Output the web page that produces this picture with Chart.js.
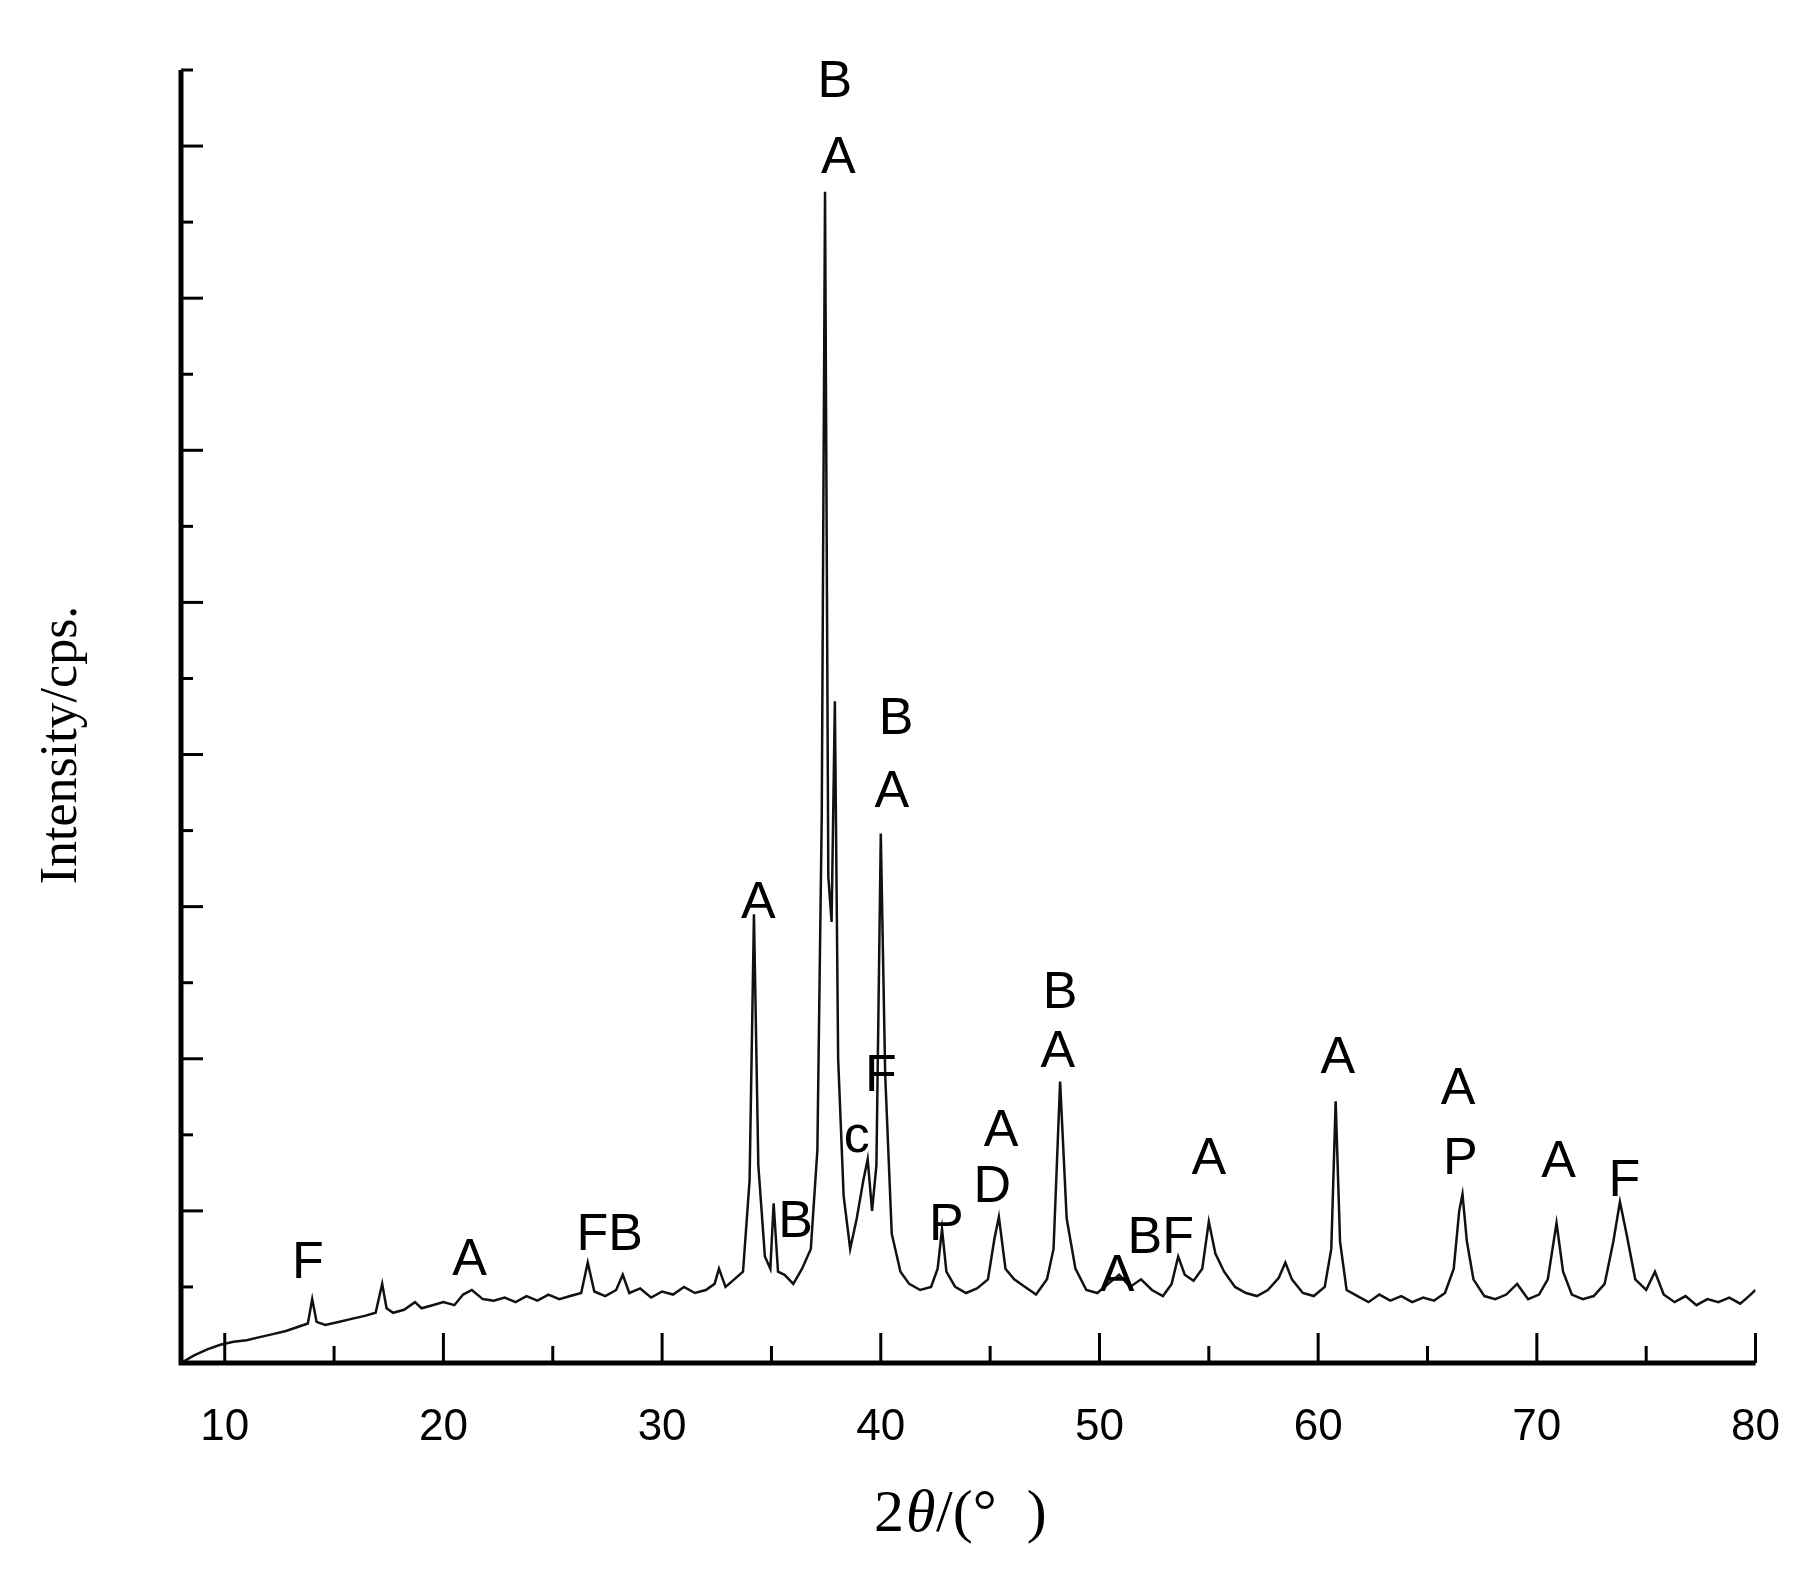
<!DOCTYPE html>
<html>
<head>
<meta charset="utf-8">
<script src="https://cdn.jsdelivr.net/npm/chart.js@4.4.0/dist/chart.umd.min.js"></script>
<style>
  html, body { margin: 0; padding: 0; background: #fff; }
  #wrap { width: 1818px; height: 1577px; }
</style>
</head>
<body>
<div id="wrap"><canvas id="xrd"></canvas></div>
<script>
// 2theta (deg) and intensity (axis units, 0..8.5)
const twoTheta = [
  8.0, 8.6, 9.2, 9.8, 10.4, 11.0, 11.6, 12.2, 12.8, 13.4, 13.8, 14.0, 14.2, 14.6, 15.2, 15.8, 16.4, 16.9, 17.2, 17.4, 17.7, 18.2, 18.7, 19.0, 19.5, 20.0, 20.5, 20.9, 21.3, 21.8, 22.3, 22.8, 23.3, 23.8, 24.3, 24.8, 25.3, 25.8, 26.3, 26.6, 26.9, 27.4, 27.9, 28.2, 28.5, 29.0, 29.5, 30.0, 30.5, 31.0, 31.5, 32.0, 32.4, 32.6, 32.9, 33.3, 33.7, 34.0, 34.2, 34.4, 34.7, 34.95, 35.1, 35.3, 35.6, 36.0, 36.4, 36.8, 37.1, 37.3, 37.45, 37.6, 37.75, 37.9, 38.05, 38.3, 38.6, 38.9, 39.2, 39.4, 39.6, 39.8, 40.0, 40.2, 40.5, 40.9, 41.3, 41.8, 42.3, 42.6, 42.8, 43.0, 43.4, 43.9, 44.4, 44.9, 45.2, 45.4, 45.7, 46.1, 46.6, 47.1, 47.6, 47.9, 48.2, 48.5, 48.9, 49.4, 49.9, 50.4, 50.9, 51.4, 51.9, 52.4, 52.9, 53.3, 53.6, 53.9, 54.3, 54.7, 55.0, 55.3, 55.7, 56.2, 56.7, 57.2, 57.7, 58.2, 58.5, 58.8, 59.3, 59.8, 60.3, 60.6, 60.8, 61.0, 61.3, 61.8, 62.3, 62.8, 63.3, 63.8, 64.3, 64.8, 65.3, 65.8, 66.2, 66.45, 66.6, 66.8, 67.1, 67.6, 68.1, 68.6, 69.1, 69.6, 70.1, 70.5, 70.9, 71.2, 71.6, 72.1, 72.6, 73.1, 73.5, 73.8, 74.1, 74.5, 75.0, 75.4, 75.8, 76.3, 76.8, 77.3, 77.8, 78.3, 78.8, 79.3, 79.7, 80.0
];
const intensity = [
  0.0, 0.05, 0.09, 0.12, 0.14, 0.15, 0.17, 0.19, 0.21, 0.24, 0.26, 0.42, 0.27, 0.25, 0.27, 0.29, 0.31, 0.33, 0.52, 0.36, 0.33, 0.35, 0.40, 0.36, 0.38, 0.40, 0.38, 0.45, 0.48, 0.42, 0.41, 0.43, 0.40, 0.44, 0.41, 0.45, 0.42, 0.44, 0.46, 0.66, 0.47, 0.44, 0.48, 0.58, 0.46, 0.49, 0.43, 0.47, 0.45, 0.50, 0.46, 0.48, 0.52, 0.62, 0.50, 0.55, 0.60, 1.2, 2.95, 1.3, 0.70, 0.62, 1.05, 0.60, 0.58, 0.52, 0.62, 0.75, 1.4, 3.6, 7.7, 3.2, 2.9, 4.35, 2.0, 1.1, 0.75, 0.95, 1.2, 1.34, 1.0, 1.3, 3.48, 1.9, 0.85, 0.60, 0.52, 0.48, 0.50, 0.62, 0.88, 0.60, 0.50, 0.46, 0.49, 0.55, 0.82, 0.96, 0.62, 0.55, 0.50, 0.45, 0.55, 0.75, 1.85, 0.95, 0.62, 0.48, 0.46, 0.52, 0.58, 0.50, 0.55, 0.48, 0.44, 0.52, 0.70, 0.58, 0.54, 0.62, 0.93, 0.72, 0.60, 0.50, 0.46, 0.44, 0.48, 0.56, 0.66, 0.55, 0.46, 0.44, 0.50, 0.75, 1.72, 0.80, 0.48, 0.44, 0.40, 0.45, 0.41, 0.44, 0.40, 0.43, 0.41, 0.46, 0.62, 1.0, 1.11, 0.80, 0.55, 0.44, 0.42, 0.45, 0.52, 0.42, 0.45, 0.55, 0.92, 0.60, 0.45, 0.42, 0.44, 0.52, 0.80, 1.06, 0.85, 0.55, 0.48, 0.60, 0.45, 0.40, 0.44, 0.38, 0.42, 0.40, 0.43, 0.39, 0.44, 0.48
];

// phase labels: position (2theta, intensity) and text
const labelX = [13.8, 21.2, 27.6, 34.4, 36.1, 37.9, 38.06, 38.9, 40.0, 40.7, 40.5, 43.0, 45.1, 45.5, 48.2, 48.1, 50.8, 52.8, 55.0, 60.9, 66.4, 66.5, 71.0, 74.0];
const labelY = [0.65, 0.67, 0.84, 3.02, 0.92, 8.42, 7.92, 1.48, 1.88, 4.23, 3.75, 0.90, 1.15, 1.52, 2.43, 2.04, 0.57, 0.82, 1.34, 2.00, 1.80, 1.34, 1.32, 1.19];
const labelText = ["F", "A", "FB", "A", "B", "B", "A", "c", "F", "B", "A", "P", "D", "A", "B", "A", "A", "BF", "A", "A", "A", "P", "A", "F"];

const xTickLabels = [10, 20, 30, 40, 50, 60, 70, 80];

const points = twoTheta.map((x, i) => ({ x: x, y: intensity[i] }));

const decor = {
  id: 'decor',
  afterDraw(chart) {
    const ctx = chart.ctx;
    const xs = chart.scales.x, ys = chart.scales.y;
    const a = chart.chartArea;
    ctx.save();
    ctx.strokeStyle = '#000';
    ctx.lineCap = 'butt';
    // axes
    ctx.lineWidth = 5;
    ctx.beginPath();
    ctx.moveTo(a.left, a.top);
    ctx.lineTo(a.left, a.bottom);
    ctx.lineTo(a.right, a.bottom);
    ctx.stroke();
    // x ticks (inward)
    ctx.lineWidth = 3;
    for (let v = 10; v <= 80; v += 5) {
      const px = xs.getPixelForValue(v);
      const len = v % 10 === 0 ? 30 : 17;
      ctx.beginPath(); ctx.moveTo(px, a.bottom); ctx.lineTo(px, a.bottom - len); ctx.stroke();
    }
    // y ticks (inward)
    for (let v = 0.5; v <= 8.5; v += 0.5) {
      const py = ys.getPixelForValue(v);
      const len = Number.isInteger(v) ? 22 : 12;
      ctx.beginPath(); ctx.moveTo(a.left, py); ctx.lineTo(a.left + len, py); ctx.stroke();
    }
    // peak labels
    ctx.fillStyle = '#000';
    ctx.font = '52px "Liberation Sans", Arial, sans-serif';
    ctx.textAlign = 'center';
    ctx.textBaseline = 'middle';
    labelText.forEach((t, i) => {
      ctx.fillText(t, xs.getPixelForValue(labelX[i]), ys.getPixelForValue(labelY[i]));
    });
    // axis titles
    ctx.textAlign = 'left';
    ctx.font = '60px "Liberation Serif", "Times New Roman", serif';
    ctx.fillText('2', 874, 1515);
    ctx.font = 'italic 60px "Liberation Serif", "Times New Roman", serif';
    ctx.fillText('\u03b8', 906, 1515);
    ctx.font = '60px "Liberation Serif", "Times New Roman", serif';
    ctx.fillText('/(\u00b0  )', 936, 1515);
    ctx.font = '52px "Liberation Serif", "Times New Roman", serif';
    ctx.translate(62, 745);
    ctx.rotate(-Math.PI / 2);
    ctx.textAlign = 'center';
    ctx.fillText('Intensity/cps.', 0, 0);
    ctx.restore();
  }
};

new Chart(document.getElementById('xrd'), {
  type: 'line',
  data: {
    datasets: [{
      data: points,
      borderColor: '#111',
      borderWidth: 2.5,
      pointRadius: 0,
      tension: 0,
      fill: false
    }]
  },
  options: {
    responsive: true,
    maintainAspectRatio: false,
    animation: false,
    layout: { padding: { top: 70, right: 40, left: 0, bottom: 0 } },
    plugins: { legend: { display: false }, tooltip: { enabled: false } },
    scales: {
      x: {
        type: 'linear', min: 8, max: 80,
        grid: { display: false, drawTicks: false },
        border: { display: false },
        afterBuildTicks: s => { s.ticks = xTickLabels.map(v => ({ value: v })); },
        ticks: { padding: 38, color: '#000', font: { size: 44, family: '"Liberation Sans Narrow", Arial, sans-serif' } },
        afterFit: s => { s.height = 214; }
      },
      y: {
        min: 0, max: 8.5,
        grid: { display: false, drawTicks: false },
        border: { display: false },
        ticks: { display: false },
        afterFit: s => { s.width = 181; }
      }
    }
  },
  plugins: [decor]
});
</script>
</body>
</html>
